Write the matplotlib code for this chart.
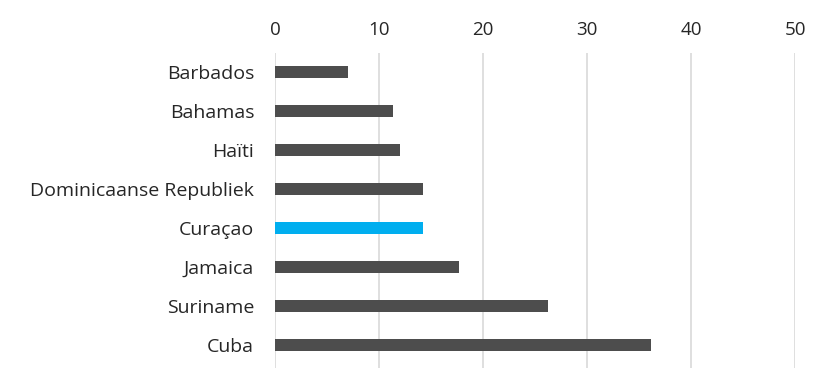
import matplotlib
matplotlib.use('Agg')
import matplotlib.pyplot as plt

landen = ['Barbados', 'Bahamas', 'Haïti', 'Dominicaanse Republiek',
          'Curaçao', 'Jamaica', 'Suriname', 'Cuba']
waarden = [7.0, 11.35, 12.0, 14.2, 14.2, 17.7, 26.25, 36.2]
highlight = 'Curaçao'

plt.rcParams['font.family'] = ['Open Sans', 'DejaVu Sans']

fig = plt.figure(figsize=(8.35, 3.92), dpi=100)
ax = fig.add_axes([0.3293, 0.0612, 0.6228, 0.8036])

kleuren = ['#00aeef' if l == highlight else '#4d4d4d' for l in landen]
ax.barh(range(len(landen)), waarden, height=0.31, color=kleuren, zorder=3)

ax.set_yticks(range(len(landen)))
ax.set_yticklabels(landen)
ax.set_ylim(7.59, -0.49)
ax.set_xlim(0, 50)
ax.set_xticks(range(0, 51, 10))

ax.xaxis.tick_top()
ax.grid(axis='x', color='#d9d9d9', linewidth=1.2, zorder=0)
for s in ax.spines.values():
    s.set_visible(False)
ax.tick_params(axis='both', length=0, labelsize=14, colors='#262626')
ax.tick_params(axis='y', pad=15)
ax.tick_params(axis='x', labelsize=13.5, pad=10)

fig.savefig('out.png', dpi=100)
